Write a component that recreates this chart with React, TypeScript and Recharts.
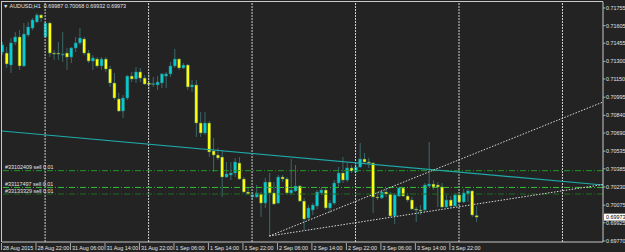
import { Bar, ComposedChart, ReferenceLine, XAxis, YAxis } from "recharts";

// AUDUSD H1, one entry per bar (index 0 = 28 Aug 14:00)
const opens = [
  0.7138, 0.71371, 0.71269, 0.71465, 0.71508, 0.71261, 0.71525, 0.71584, 0.71636, 0.71695,
  0.71508, 0.71627, 0.71371, 0.71371, 0.71354, 0.71371, 0.71337, 0.71414, 0.71457, 0.71491,
  0.71371, 0.71303, 0.7132, 0.71261, 0.7132, 0.71235, 0.71116, 0.7098, 0.70877, 0.70988,
  0.71175, 0.7115, 0.7121, 0.71158, 0.71116, 0.71107, 0.71099, 0.71116, 0.71175, 0.71193,
  0.71261, 0.7132, 0.71244, 0.71269, 0.71082, 0.71099, 0.70775, 0.7069, 0.70775, 0.70537,
  0.70502, 0.70485, 0.70315, 0.70332, 0.70349, 0.70434, 0.70298, 0.70187, 0.70145, 0.70145,
  0.7017, 0.70093, 0.70272, 0.70179, 0.70093, 0.70315, 0.70298, 0.70179, 0.70196, 0.70238,
  0.7011, 0.69966, 0.70034, 0.70068, 0.70179, 0.70204, 0.70051, 0.70093, 0.70264, 0.70349,
  0.70289, 0.70392, 0.70358, 0.704, 0.70468, 0.70443, 0.70434, 0.70145, 0.70136, 0.70187,
  0.7017, 0.69983, 0.70153, 0.70221, 0.70153, 0.70119, 0.70042, 0.70034, 0.70034, 0.70238,
  0.70255, 0.70247, 0.7023, 0.70059, 0.70119, 0.70068, 0.70162, 0.70102, 0.7017, 0.70196,
  0.69987,
];
const highs = [
  0.71465, 0.71423, 0.71499, 0.7155, 0.71567, 0.71627, 0.71636, 0.7167, 0.71712, 0.71704,
  0.71636, 0.71636, 0.71397, 0.71465, 0.7155, 0.71414, 0.71423, 0.71508, 0.71584, 0.71508,
  0.71397, 0.71354, 0.71337, 0.71337, 0.71337, 0.71261, 0.71201, 0.71031, 0.71014, 0.71184,
  0.7121, 0.71252, 0.71244, 0.71184, 0.71201, 0.71167, 0.71175, 0.71201, 0.7121, 0.71295,
  0.71406, 0.71329, 0.71286, 0.71278, 0.71141, 0.71141, 0.70869, 0.70869, 0.70792, 0.70647,
  0.70562, 0.70545, 0.70443, 0.70443, 0.70477, 0.70485, 0.70315, 0.7023, 0.70187, 0.70247,
  0.70187, 0.70306, 0.70349, 0.70272, 0.70332, 0.70332, 0.70315, 0.70468, 0.70417, 0.70247,
  0.70136, 0.70076, 0.70093, 0.70204, 0.7023, 0.7023, 0.70119, 0.70289, 0.704, 0.70485,
  0.70434, 0.70417, 0.70434, 0.70605, 0.70519, 0.70477, 0.70443, 0.70187, 0.70204, 0.70221,
  0.70187, 0.70179, 0.7023, 0.7023, 0.70179, 0.70145, 0.70059, 0.70076, 0.70264, 0.70613,
  0.70289, 0.70272, 0.70264, 0.70162, 0.70153, 0.70179, 0.70179, 0.70213, 0.70213, 0.70204,
  0.70068,
];
const lows = [
  0.71354, 0.71244, 0.71201, 0.7144, 0.71227, 0.71252, 0.71508, 0.71567, 0.71627, 0.71636,
  0.71499, 0.71337, 0.71312, 0.71312, 0.71295, 0.71227, 0.71286, 0.7138, 0.7144, 0.71354,
  0.71286, 0.71227, 0.71244, 0.71227, 0.7121, 0.71082, 0.70971, 0.70869, 0.70818, 0.70971,
  0.71124, 0.71116, 0.71124, 0.71099, 0.71039, 0.71082, 0.71056, 0.71073, 0.71073, 0.71167,
  0.71244, 0.71227, 0.71235, 0.71056, 0.71039, 0.70656, 0.70656, 0.70673, 0.70485, 0.70358,
  0.7046, 0.70145, 0.70306, 0.70289, 0.70315, 0.70289, 0.70179, 0.70162, 0.70119, 0.70136,
  0.69974, 0.70051, 0.69812, 0.70076, 0.70085, 0.70272, 0.70162, 0.70162, 0.70187, 0.70102,
  0.69863, 0.69949, 0.69991, 0.70042, 0.70162, 0.70034, 0.70008, 0.70076, 0.7023, 0.70264,
  0.70272, 0.70349, 0.70349, 0.70392, 0.70434, 0.70392, 0.70008, 0.70119, 0.70128, 0.70145,
  0.69974, 0.69915, 0.70145, 0.70145, 0.70102, 0.70034, 0.69932, 0.69991, 0.70017, 0.7023,
  0.70204, 0.70059, 0.70051, 0.70051, 0.70051, 0.70059, 0.70093, 0.70093, 0.70102, 0.69974,
  0.69932,
];
const closes = [
  0.7144, 0.71278, 0.71457, 0.71508, 0.71261, 0.71533, 0.71593, 0.71653, 0.71695, 0.7167,
  0.71627, 0.71371, 0.71368, 0.71363, 0.71363, 0.71337, 0.71414, 0.71457, 0.71499, 0.71371,
  0.71303, 0.71329, 0.71261, 0.7132, 0.71235, 0.71116, 0.70988, 0.70877, 0.70988, 0.71175,
  0.7115, 0.7121, 0.71158, 0.71107, 0.71103, 0.71111, 0.71124, 0.71193, 0.71193, 0.71261,
  0.7132, 0.71244, 0.71269, 0.71082, 0.71099, 0.70775, 0.7069, 0.70775, 0.70528, 0.70502,
  0.70477, 0.70315, 0.70341, 0.70349, 0.70443, 0.70298, 0.70187, 0.7017, 0.70162, 0.70179,
  0.70093, 0.70272, 0.70179, 0.70085, 0.70315, 0.70298, 0.70179, 0.70204, 0.70238, 0.7011,
  0.69957, 0.70051, 0.70076, 0.70187, 0.70204, 0.70051, 0.70093, 0.70264, 0.70349, 0.70289,
  0.70392, 0.70366, 0.704, 0.70468, 0.70443, 0.70434, 0.70145, 0.70136, 0.70187, 0.7017,
  0.69983, 0.70162, 0.70221, 0.70153, 0.70119, 0.70042, 0.70034, 0.70025, 0.70247, 0.70255,
  0.7023, 0.7023, 0.70059, 0.70119, 0.70068, 0.70162, 0.70102, 0.70179, 0.70196, 0.69991,
  0.69973,
];

// time labels every 8 bars
const timeLabels = [
  "28 Aug 2015", "28 Aug 22:00", "31 Aug 06:00", "31 Aug 14:00", "31 Aug 22:00",
  "1 Sep 06:00", "1 Sep 14:00", "1 Sep 22:00", "2 Sep 06:00", "2 Sep 14:00",
  "2 Sep 22:00", "3 Sep 06:00", "3 Sep 14:00", "3 Sep 22:00",
];
const timeTickIdx = timeLabels.map((_, k) => k * 8);
const daySeparators = [10, 34, 58, 82, 106, 130];

const priceTicks = [
  0.71755, 0.71605, 0.71455, 0.713, 0.7115, 0.70995, 0.7084, 0.7069, 0.70535, 0.70385,
  0.7023, 0.70075, 0.69925, 0.6977,
];

const orderNames = ["#33102409 sell 0.01", "#33117497 sell 0.01", "#33133329 sell 0.01"];
const orderPrices = [0.70369, 0.70226, 0.7017];

// trend lines: [bar index, price]
const cyanTrend = [[0, 0.70707], [139.4, 0.70247]];
const upTrendSteep = [[62, 0.69812], [139.4, 0.70954]];
const upTrendFlat = [[62, 0.69812], [139.4, 0.70251]];

const W = 625;
const H = 252;
const BG = "#232323";
const UP = "#00ced1";
const DOWN = "#ffff00";
const WICK = "#3d6868";
const AXIS = "#c8c8c8";
const TEXT = "#e4e4e4";
const FONT = "'Liberation Sans', Arial, sans-serif";
const FS = 5.4;
const orderColors = ["#229a22", "#33c033", "#1e6e1e"];

const last = closes.length - 1;
const data = opens.map((open, i) => ({
  i,
  open,
  high: highs[i],
  low: lows[i],
  close: closes[i],
}));

const Candle = (props: any) => {
  const { x, y, width, height, payload } = props;
  if (payload == null || !Number.isFinite(x) || !Number.isFinite(y)) return null;
  const { open, high, low, close } = payload;
  const top = Math.min(y, y + height);
  const span = Math.abs(height);
  const at = (v: number) => top + ((high - v) / (high - low || 1)) * span;
  const cx = x + width / 2;
  const yo = at(open);
  const yc = at(close);
  const bt = Math.min(yo, yc);
  const bh = Math.max(Math.abs(yc - yo), 1);
  return (
    <g>
      <line x1={cx} x2={cx} y1={top} y2={top + span} stroke={WICK} strokeWidth={1} />
      <rect
        x={cx - 1.5}
        y={bt}
        width={3}
        height={bh}
        fill={close >= open ? UP : DOWN}
        stroke={WICK}
        strokeWidth={0.5}
      />
    </g>
  );
};

const TimeTick = ({ x, y, payload }: any) => (
  <g>
    <line x1={x - 0.5} x2={x - 0.5} y1={y + 1} y2={y + 8} stroke={AXIS} strokeWidth={0.8} />
    <text x={x + 1} y={y + 7.5} fill={TEXT} fontSize={FS} fontFamily={FONT}>
      {timeLabels[payload.value / 8]}
    </text>
  </g>
);

const PriceTick = ({ x, y, payload }: any) => (
  <g>
    <line x1={x} x2={x + 2.5} y1={y} y2={y} stroke={AXIS} strokeWidth={0.8} />
    <text x={x + 3} y={y + 2} fill={TEXT} fontSize={FS} fontFamily={FONT}>
      {Number(payload.value).toFixed(5)}
    </text>
  </g>
);

const orderLabel = (name: string) => (p: any) => {
  const vb = p.viewBox || {};
  return (
    <text x={vb.x + 3} y={vb.y - 1.5} fill={TEXT} fontSize={FS} fontFamily={FONT}>
      {name}
    </text>
  );
};

const lastPriceLabel = (p: any) => {
  const vb = p.viewBox || {};
  const rx = vb.x + vb.width + 1;
  return (
    <g>
      <rect x={rx} y={vb.y - 3.5} width={22} height={7} fill="#ffffff" />
      <text x={rx + 2} y={vb.y + 2} fill="#000000" fontSize={FS} fontFamily={FONT}>
        {closes[last].toFixed(5)}
      </text>
    </g>
  );
};

export default function App() {
  const title = `AUDUSD,H1  ${opens[last].toFixed(5)} ${highs[last].toFixed(5)} ${lows[last].toFixed(5)} ${closes[last].toFixed(5)}`;
  return (
    <div
      style={{
        position: "fixed",
        left: 0,
        top: 0,
        width: W,
        height: H,
        background: BG,
        overflow: "hidden",
      }}
    >
      <ComposedChart
        width={W}
        height={H}
        data={data}
        margin={{ top: 2, right: 0, bottom: 0, left: 2 }}
      >
        <XAxis
          dataKey="i"
          type="number"
          domain={[0, 139.4]}
          allowDataOverflow
          ticks={timeTickIdx}
          tick={<TimeTick />}
          tickLine={false}
          tickSize={0}
          tickMargin={0}
          height={10}
          axisLine={{ stroke: AXIS }}
          interval={0}
        />
        <YAxis
          orientation="right"
          type="number"
          domain={[0.697612, 0.71806]}
          allowDataOverflow
          ticks={priceTicks}
          tick={<PriceTick />}
          tickLine={false}
          tickSize={0}
          tickMargin={0}
          width={22}
          axisLine={{ stroke: AXIS }}
          interval={0}
        />
        {daySeparators.map((d) => (
          <ReferenceLine key={d} x={d} stroke="#cfcfcf" strokeDasharray="2 1" />
        ))}
        {orderPrices.map((p, k) => (
          <ReferenceLine
            key={orderNames[k]}
            y={p}
            stroke={orderColors[k]}
            strokeDasharray="6 2 1 2"
            label={orderLabel(orderNames[k])}
          />
        ))}
        <ReferenceLine
          segment={cyanTrend.map(([x, y]) => ({ x, y }))}
          stroke="#1fa9a9"
          strokeWidth={1.2}
        />
        <Bar
          dataKey={(d: any) => [d.low, d.high]}
          barSize={3}
          shape={<Candle />}
          isAnimationActive={false}
        />
        <ReferenceLine
          segment={upTrendSteep.map(([x, y]) => ({ x, y }))}
          stroke="#d8d8d8"
          strokeDasharray="1.5 1.5"
        />
        <ReferenceLine
          segment={upTrendFlat.map(([x, y]) => ({ x, y }))}
          stroke="#d8d8d8"
          strokeDasharray="1.5 1.5"
        />
        <ReferenceLine y={closes[last]} stroke="none" label={lastPriceLabel} />
      </ComposedChart>
      <div
        style={{
          position: "absolute",
          left: 1,
          top: 1,
          width: 602,
          height: 241,
          borderLeft: `1px solid ${AXIS}`,
          borderTop: `1px solid ${AXIS}`,
          pointerEvents: "none",
          boxSizing: "border-box",
        }}
      />
      <div
        style={{
          position: "absolute",
          left: 3,
          top: 3,
          color: TEXT,
          fontFamily: FONT,
          fontSize: FS,
          lineHeight: "7px",
          whiteSpace: "pre",
        }}
      >
        {"\u25BC " + title}
      </div>
    </div>
  );
}
